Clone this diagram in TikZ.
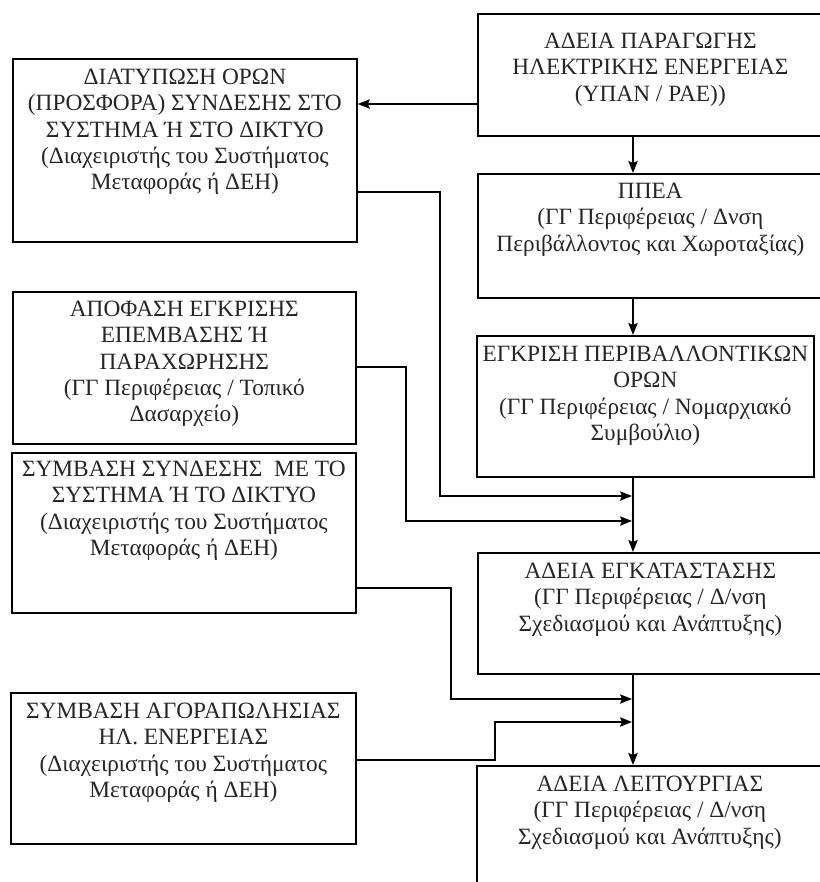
\documentclass[tikz,border=0pt]{standalone}
\usepackage{fontspec}
\setmainfont{Liberation Serif}
\usetikzlibrary{arrows.meta}
\newdimen\pxu \pxu=0.75pt
\newcommand\bxt[4]{\parbox[c][#2\pxu][t]{#1\pxu}{\centering\vspace*{#3\pxu}#4\par}}
\tikzset{
  bx/.style={draw, line width=1.3pt, inner sep=0pt, anchor=north west, text=black!85},
  arr/.style={line width=1.2pt, -{Stealth[length=9pt,width=7pt,inset=1.5pt]}},
  ln/.style={line width=1.2pt}
}
\begin{document}
\begin{tikzpicture}[x=0.75pt,y=-0.75pt,font=\fontsize{17.5pt}{19.8pt}\selectfont]
\useasboundingbox (0,0) rectangle (820,882);
\clip (0,0) rectangle (820,882);
\fill[white] (0,0) rectangle (820,882);
% right column
\node[bx] (A) at (477,13) {\bxt{345}{122}{19}{ΑΔΕΙΑ ΠΑΡΑΓΩΓΗΣ\\ΗΛΕΚΤΡΙΚΗΣ ΕΝΕΡΓΕΙΑΣ\\(ΥΠΑΝ / ΡΑΕ))}};
\node[bx] (C) at (477,173) {\bxt{345}{124}{9}{ΠΠΕΑ\\(ΓΓ Περιφέρειας / Δνση\\Περιβάλλοντος και Χωροταξίας)}};
\node[bx] (D) at (476,335) {\bxt{337}{141}{10}{ΕΓΚΡΙΣΗ ΠΕΡΙΒΑΛΛΟΝΤΙΚΩΝ\\ΟΡΩΝ\\(ΓΓ Περιφέρειας / Νομαρχιακό\\Συμβούλιο)}};
\node[bx] (E) at (477,552) {\bxt{345}{121}{10}{ΑΔΕΙΑ ΕΓΚΑΤΑΣΤΑΣΗΣ\\(ΓΓ Περιφέρειας / Δ/νση\\Σχεδιασμού και Ανάπτυξης)}};
\node[bx] (F) at (476,765) {\bxt{346}{130}{10}{ΑΔΕΙΑ ΛΕΙΤΟΥΡΓΙΑΣ\\(ΓΓ Περιφέρειας / Δ/νση\\Σχεδιασμού και Ανάπτυξης)}};
% left column
\node[bx] (B) at (12,58) {\bxt{344}{183}{10}{ΔΙΑΤΥΠΩΣΗ ΟΡΩΝ\\(ΠΡΟΣΦΟΡΑ) ΣΥΝΔΕΣΗΣ ΣΤΟ\\ΣΥΣΤΗΜΑ Ή ΣΤΟ ΔΙΚΤΥΟ\\(Διαχειριστής του Συστήματος\\Μεταφοράς ή ΔΕΗ)}};
\node[bx] (G) at (12,291) {\bxt{343}{152}{9}{ΑΠΟΦΑΣΗ ΕΓΚΡΙΣΗΣ\\ΕΠΕΜΒΑΣΗΣ Ή\\ΠΑΡΑΧΩΡΗΣΗΣ\\(ΓΓ Περιφέρειας / Τοπικό\\Δασαρχείο)}};
\node[bx] (H) at (11,452) {\bxt{344}{160}{8}{ΣΥΜΒΑΣΗ ΣΥΝΔΕΣΗΣ\ \ ΜΕ ΤΟ\\ΣΥΣΤΗΜΑ Ή ΤΟ ΔΙΚΤΥΟ\\(Διαχειριστής του Συστήματος\\Μεταφοράς ή ΔΕΗ)}};
\node[bx] (I) at (10,692) {\bxt{345}{151}{10}{ΣΥΜΒΑΣΗ ΑΓΟΡΑΠΩΛΗΣΙΑΣ\\ΗΛ. ΕΝΕΡΓΕΙΑΣ\\(Διαχειριστής του Συστήματος\\Μεταφοράς ή ΔΕΗ)}};
% junction points on the trunk
\coordinate (j1) at (632,496);
\coordinate (j2) at (632,521);
\coordinate (j3) at (632,699);
\coordinate (j4) at (632,722);
% connectors
\draw[arr] (A.west |- 0,104) -- (B.east |- 0,104);
\draw[arr] (A.south -| 633,0) -- (C.north -| 633,0);
\draw[arr] (C.south -| 633,0) -- (D.north -| 633,0);
\draw[arr] (D.south -| 633,0) -- (E.north -| 633,0);
\draw[arr] (E.south -| 633,0) -- (F.north -| 633,0);
\draw[arr] (B.east |- 0,192) -| (440,496) -- (j1);
\draw[arr] (G.east |- 0,367) -| (406,521) -- (j2);
\draw[arr] (H.east |- 0,588) -| (451,699) -- (j3);
\draw[arr] (I.east |- 0,760) -| (495,722) -- (j4);
\end{tikzpicture}
\end{document}
